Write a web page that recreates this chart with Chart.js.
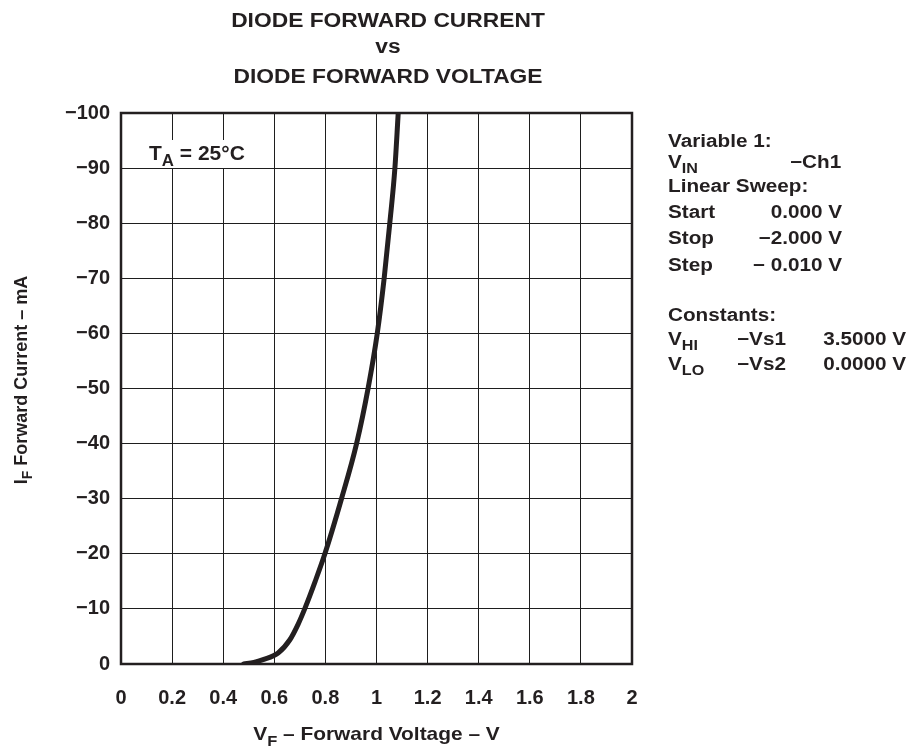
<!DOCTYPE html>
<html><head><meta charset="utf-8">
<script src="https://cdn.jsdelivr.net/npm/chart.js@4.4.1/dist/chart.umd.min.js"></script>
<style>html,body{margin:0;padding:0;background:#fff}canvas{display:block}</style>
</head><body>
<canvas id="c" width="908" height="746" style="width:908px;height:746px"></canvas>
<script>
// ---- data ----
const voltage = [0.48, 0.52, 0.556, 0.615, 0.661, 0.693, 0.719, 0.760, 0.798, 0.863, 0.922, 0.967, 1.003, 1.030, 1.052, 1.072, 1.085];
const current = [0, -0.3, -0.8, -2, -4.4, -7.2, -10, -15, -20, -30, -40, -50, -60, -70, -80, -90, -100];
const xTickValues = [0, 0.2, 0.4, 0.6, 0.8, 1, 1.2, 1.4, 1.6, 1.8, 2];
const xTickLabels = ['0', '0.2', '0.4', '0.6', '0.8', '1', '1.2', '1.4', '1.6', '1.8', '2'];
const yTickValues = [0, -10, -20, -30, -40, -50, -60, -70, -80, -90, -100];
const yTickLabels = ['0', '\u221210', '\u221220', '\u221230', '\u221240', '\u221250', '\u221260', '\u221270', '\u221280', '\u221290', '\u2212100'];
const titleLines = ['DIODE FORWARD CURRENT', 'vs', 'DIODE FORWARD VOLTAGE'];
const xTitle = [['V', false], ['F', true], [' \u2013 Forward Voltage \u2013 V', false]];
const yTitle = [['I', false], ['F', true], [' Forward Current \u2013 mA', false]];
const tempLabel = [['T', false], ['A', true], [' = 25\u00B0C', false]];
// each line: baseline y and segments {parts, x, align}
const notes = [
  { y: 147, segs: [{ parts: [['Variable 1:', false]], x: 668 }] },
  { y: 168, segs: [{ parts: [['V', false], ['IN', true]], x: 668 }, { parts: [['\u2212Ch1', false]], x: 790 }] },
  { y: 192, segs: [{ parts: [['Linear Sweep:', false]], x: 668 }] },
  { y: 218, segs: [{ parts: [['Start', false]], x: 668 }, { parts: [['0.000 V', false]], x: 842, align: 'right' }] },
  { y: 244, segs: [{ parts: [['Stop', false]], x: 668 }, { parts: [['\u22122.000 V', false]], x: 842, align: 'right' }] },
  { y: 271, segs: [{ parts: [['Step', false]], x: 668 }, { parts: [['\u2212 0.010 V', false]], x: 842, align: 'right' }] },
  { y: 321, segs: [{ parts: [['Constants:', false]], x: 668 }] },
  { y: 345, segs: [{ parts: [['V', false], ['HI', true]], x: 668 }, { parts: [['\u2212Vs1', false]], x: 737 }, { parts: [['3.5000 V', false]], x: 906, align: 'right' }] },
  { y: 370, segs: [{ parts: [['V', false], ['LO', true]], x: 668 }, { parts: [['\u2212Vs2', false]], x: 737 }, { parts: [['0.0000 V', false]], x: 906, align: 'right' }] }
];

const INK = '#231f20';
const FAM = "'Liberation Sans', Arial, sans-serif";

function findLabel(vals, labels, v) {
  for (let i = 0; i < vals.length; i++) if (Math.abs(vals[i] - v) < 1e-6) return labels[i];
  return '';
}

function drawRich(ctx, x, y, parts, size, align, stretch) {
  stretch = stretch || 1;
  const subSize = Math.round(size * 0.78);
  let w = 0;
  const widths = parts.map(([t, sub]) => {
    ctx.font = 'bold ' + (sub ? subSize : size) + 'px ' + FAM;
    const m = ctx.measureText(t).width * stretch;
    w += m;
    return m;
  });
  let cx = x;
  if (align === 'center') cx = x - w / 2;
  else if (align === 'right') cx = x - w;
  ctx.textAlign = 'left';
  ctx.textBaseline = 'alphabetic';
  parts.forEach(([t, sub], i) => {
    ctx.font = 'bold ' + (sub ? subSize : size) + 'px ' + FAM;
    ctx.save();
    ctx.translate(cx, sub ? y + size * 0.3 : y);
    ctx.scale(stretch, 1);
    ctx.fillText(t, 0, 0);
    ctx.restore();
    cx += widths[i];
  });
}

const framePlugin = {
  id: 'frame',
  afterDatasetsDraw(chart) {
    const ctx = chart.ctx, a = chart.chartArea;
    ctx.save();
    ctx.fillStyle = '#fff';
    ctx.fillRect(146, 140, 102, 28);
    ctx.fillStyle = INK;
    drawRich(ctx, 149, 160, tempLabel, 20, 'left', 1.05);
    ctx.strokeStyle = INK;
    ctx.lineWidth = 2.5;
    ctx.strokeRect(a.left, a.top, a.right - a.left, a.bottom - a.top);
    ctx.restore();
  },
  afterDraw(chart) {
    const ctx = chart.ctx, a = chart.chartArea;
    ctx.save();
    ctx.fillStyle = INK;
    drawRich(ctx, 388, 27, [[titleLines[0], false]], 20, 'center', 1.14);
    drawRich(ctx, 388, 53, [[titleLines[1], false]], 20, 'center', 1.14);
    drawRich(ctx, 388, 83, [[titleLines[2], false]], 20, 'center', 1.14);
    drawRich(ctx, (a.left + a.right) / 2, 740, xTitle, 19, 'center', 1.1);
    ctx.save();
    ctx.translate(27, 380);
    ctx.rotate(-Math.PI / 2);
    drawRich(ctx, 0, 0, yTitle, 18, 'center', 1.0);
    ctx.restore();
    notes.forEach(line => {
      line.segs.forEach(seg => drawRich(ctx, seg.x, line.y, seg.parts, 18, seg.align || 'left', 1.15));
    });
    ctx.restore();
  }
};

new Chart(document.getElementById('c'), {
  type: 'scatter',
  data: {
    datasets: [{
      data: voltage.map((v, i) => ({ x: v, y: current[i] })),
      showLine: true,
      borderColor: INK,
      borderWidth: 5,
      pointRadius: 0,
      cubicInterpolationMode: 'monotone',
      borderCapStyle: 'round',
      fill: false
    }]
  },
  options: {
    responsive: false,
    animation: false,
    devicePixelRatio: 1,
    layout: { padding: { top: 113, right: 276, left: 0, bottom: 0 } },
    plugins: { legend: { display: false }, title: { display: false }, tooltip: { enabled: false } },
    scales: {
      x: {
        type: 'linear', min: 0, max: 2,
        afterFit(s) { s.height = 82; },
        afterBuildTicks(s) { s.ticks = xTickValues.map(v => ({ value: v })); },
        grid: { color: '#1e1e1e', lineWidth: 1, drawTicks: false },
        border: { display: false },
        ticks: {
          padding: 22, color: INK, maxRotation: 0, autoSkip: false,
          font: { family: FAM, size: 20, weight: 'bold' },
          callback: v => findLabel(xTickValues, xTickLabels, v)
        }
      },
      y: {
        type: 'linear', min: -100, max: 0, reverse: true,
        afterFit(s) { s.width = 121; },
        afterBuildTicks(s) { s.ticks = yTickValues.map(v => ({ value: v })); },
        grid: { color: '#1e1e1e', lineWidth: 1, drawTicks: false },
        border: { display: false },
        ticks: {
          padding: 11, color: INK, autoSkip: false,
          font: { family: FAM, size: 20, weight: 'bold' },
          callback: v => findLabel(yTickValues, yTickLabels, v)
        }
      }
    }
  },
  plugins: [framePlugin]
});
</script>
</body></html>
